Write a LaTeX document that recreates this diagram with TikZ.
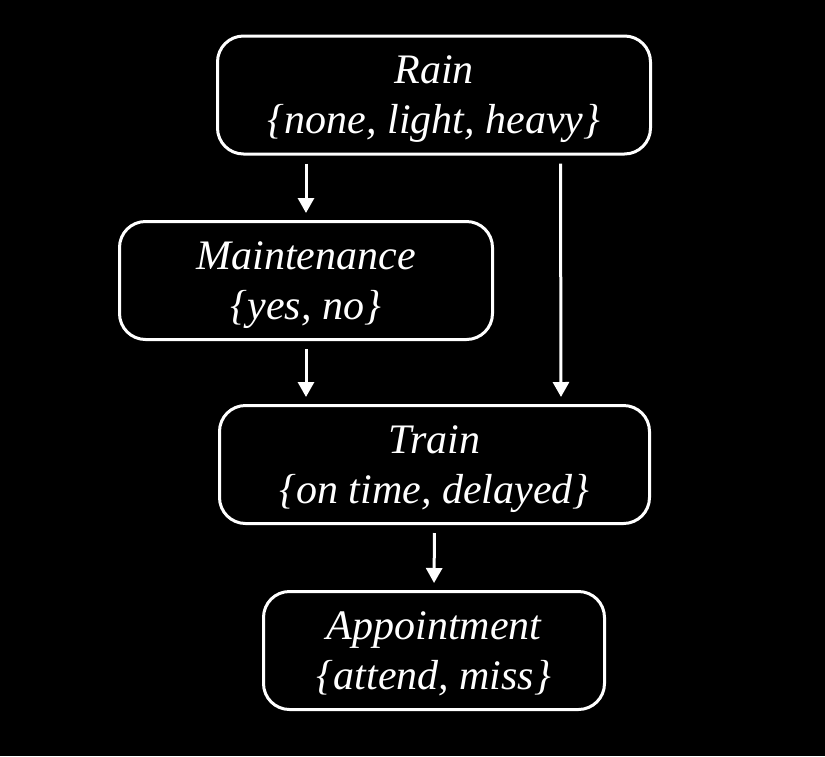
\documentclass[tikz,border=0pt]{standalone}
\usepackage{fontspec}
\setmainfont{Liberation Serif}
\usetikzlibrary{arrows.meta,positioning,calc}

\begin{document}
\begin{tikzpicture}[x=1pt, y=-1pt,
  var/.style={draw=white, line width=3pt, rounded corners=26pt, text=white,
    minimum height=118pt, align=center, text depth=0pt,
    font=\fontsize{42}{50}\selectfont\itshape},
  arrow/.style={-{Triangle[length=15pt,width=16pt]}, draw=white, line width=3pt,
    shorten <=8pt, shorten >=7pt}]
\fill[black] (0,0) rectangle (825,756);
\useasboundingbox (0,0) rectangle (825,756);
\node[var, minimum width=433pt] (rain) at (434,95) {Rain\\\{none, light, heavy\}};
\node[var, minimum width=373pt] (maint) at (306,280.5) {Maintenance\\\{yes, no\}};
\node[var, minimum width=430pt] (train) at (434.5,464.5) {Train\\\{on time, delayed\}};
\node[var, minimum width=341pt] (appt) at (434,650.5) {Appointment\\\{attend, miss\}};
\draw[arrow] (rain.south -| maint) -- (maint.north);
\draw[arrow] ([xshift=126.5pt]rain.south) -- ([xshift=126.5pt]train.north);
\draw[arrow] (maint.south) -- (train.north -| maint);
\draw[arrow] (train.south) -- (appt.north);
\end{tikzpicture}
\end{document}
